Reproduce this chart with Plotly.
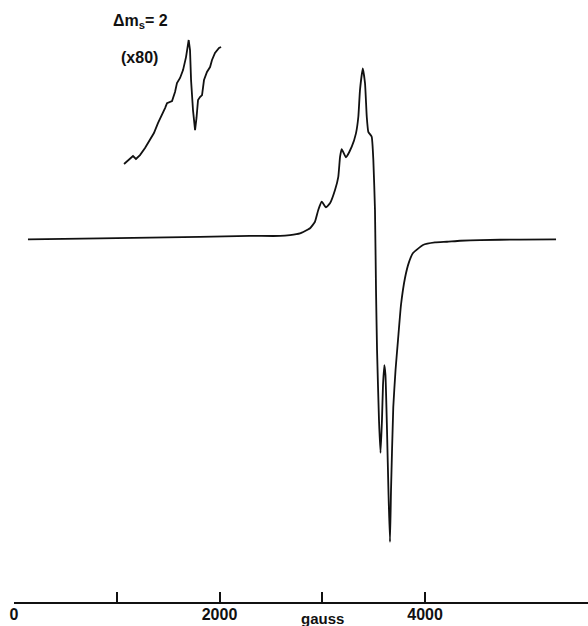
import plotly.graph_objects as go

# Main EPR spectrum (field in gauss, derivative intensity, arbitrary units)
main_field = [136, 837, 1810, 2297, 2589, 2686, 2783, 2881, 2929, 2961, 2995, 3036, 3075,
              3124, 3156, 3173, 3189, 3231, 3287, 3328, 3351, 3367, 3394, 3416, 3433, 3448,
              3481, 3497, 3513, 3523, 3533, 3552, 3567, 3581, 3591, 3604, 3615, 3630, 3645,
              3659, 3669, 3691, 3713, 3737, 3766, 3805, 3844, 3883, 3980, 4097, 4214, 4341,
              4535, 4924, 5275]
main_signal = [-0.2, 0.4, 1.3, 1.8, 1.8, 2.3, 3.3, 6.3, 10.1, 17.0, 21.8, 18.5, 20.9,
               28.7, 36.4, 48.1, 52.6, 47.8, 54.0, 61.8, 71.5, 87.1, 99.8, 91.1, 71.5, 62.7,
               59.8, 46.2, 17.0, -29.8, -64.9, -105.8, -125.1, -105.8, -85.4, -73.7, -79.5,
               -111.7, -149.7, -177.2, -146.8, -98.2, -76.6, -59.1, -38.6, -22.8, -13.5, -8.2,
               -3.5, -2.0, -1.6, -1.0, -0.6, -0.3, -0.2]

# Half-field (Delta m_s = 2) region, amplified x80, displayed offset
half_field = [1071, 1100, 1129, 1158, 1187, 1226, 1275, 1324, 1362, 1401, 1440, 1470, 1489,
              1518, 1538, 1567, 1586, 1616, 1645, 1674, 1689, 1700, 1713, 1723, 1742, 1762,
              1776, 1791, 1810, 1830, 1849, 1878, 1908, 1927, 1956, 1976, 1995, 2015]
half_signal = [43.9, 45.6, 47.4, 48.5, 46.8, 49.1, 53.2, 57.9, 62.0, 67.8, 72.5, 76.6, 79.5,
               80.1, 80.7, 86.0, 91.2, 94.2, 98.8, 106.4, 113.5, 116.4, 110.5, 93.0, 75.4, 63.7,
               70.8, 81.3, 83.0, 84.2, 93.0, 97.7, 100.6, 104.7, 108.8, 110.5, 111.7, 112.3]

tick_vals = [0, 1000, 2000, 3000, 4000]
tick_text = ["<b>0</b>", "", "<b>2000</b>", "", "<b>4000</b>"]

FONT = "Liberation Sans"

fig = go.Figure()
fig.add_trace(go.Scatter(x=main_field, y=main_signal, mode="lines",
                         line=dict(color="#111111", width=1.8, shape="spline", smoothing=0.4),
                         showlegend=False, hoverinfo="skip"))
fig.add_trace(go.Scatter(x=half_field, y=half_signal, mode="lines",
                         line=dict(color="#111111", width=1.8),
                         showlegend=False, hoverinfo="skip"))

fig.update_layout(
    width=588, height=626,
    margin=dict(l=14, r=0, t=0, b=24),
    paper_bgcolor="white", plot_bgcolor="white",
    xaxis=dict(range=[0, 5586], showgrid=False, zeroline=False, showline=True,
               linecolor="#111111", linewidth=2, ticks="inside", ticklen=10, tickwidth=2,
               tickcolor="#111111", tickvals=tick_vals, ticktext=tick_text,
               ticklabelstandoff=-3,
               tickfont=dict(family=FONT, size=16, color="#111111"), automargin=False),
    yaxis=dict(range=[-212.3, 139.8], visible=False, showgrid=False, zeroline=False),
    annotations=[
        dict(text="<b>gauss</b>", xref="x", yref="paper", x=3000, y=-0.027,
             showarrow=False, xanchor="center", yanchor="middle",
             font=dict(family=FONT, size=15, color="#111111")),
        dict(text="<b>\u0394m<sub>s</sub>= 2</b>", xref="paper", yref="paper", x=0.169, y=0.965,
             showarrow=False, xanchor="left", yanchor="middle",
             font=dict(family=FONT, size=16, color="#111111")),
        dict(text="<b>(x80)</b>", xref="paper", yref="paper", x=0.183, y=0.905,
             showarrow=False, xanchor="left", yanchor="middle",
             font=dict(family=FONT, size=16, color="#111111")),
    ],
)

fig.write_html("out.html", config={"displayModeBar": False},
               post_script="document.body.style.margin='0';document.body.style.overflow='hidden';")
